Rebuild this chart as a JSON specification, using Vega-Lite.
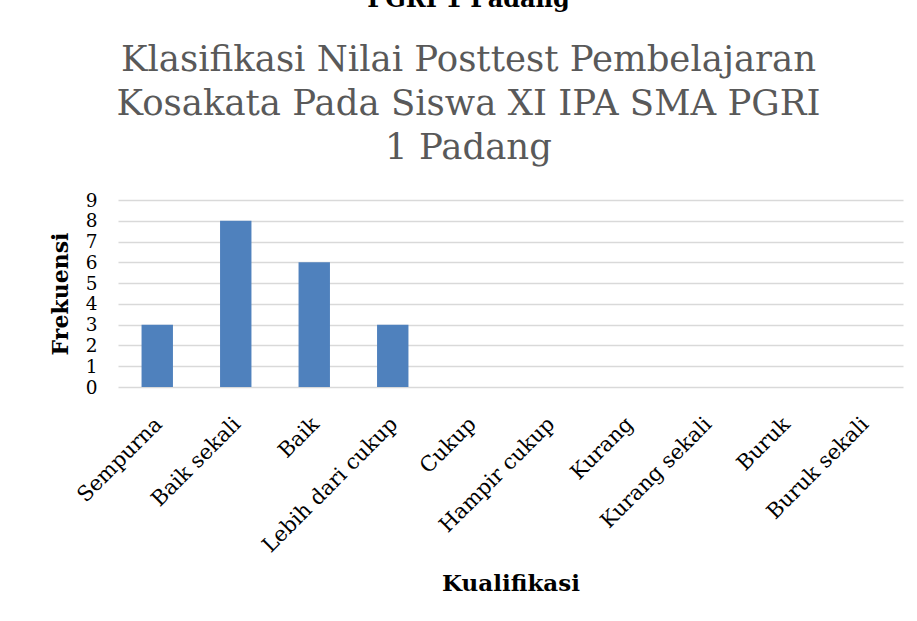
{
  "$schema": "https://vega.github.io/schema/vega-lite/v6.json",
  "width": 785,
  "height": 187,
  "autosize": "none",
  "padding": {"left": 118, "top": 200, "right": 14, "bottom": 234},
  "background": "white",
  "title": {
    "text": "PGRI 1 Padang",
    "subtitle": ["Klasifikasi Nilai Posttest Pembelajaran", "Kosakata Pada Siswa XI IPA SMA PGRI", "1 Padang"],
    "anchor": "middle",
    "frame": "group",
    "dx": -42,
    "offset": 25,
    "font": "DejaVu Serif",
    "fontSize": 24,
    "fontWeight": "bold",
    "color": "black",
    "subtitleFont": "DejaVu Serif",
    "subtitleFontSize": 35.5,
    "subtitleColor": "#595959",
    "subtitleLineHeight": 44,
    "subtitlePadding": 31
  },
  "data": {
    "values": [
      {"kualifikasi": "Sempurna", "frekuensi": 3},
      {"kualifikasi": "Baik sekali", "frekuensi": 8},
      {"kualifikasi": "Baik", "frekuensi": 6},
      {"kualifikasi": "Lebih dari cukup", "frekuensi": 3},
      {"kualifikasi": "Cukup", "frekuensi": 0},
      {"kualifikasi": "Hampir cukup", "frekuensi": 0},
      {"kualifikasi": "Kurang", "frekuensi": 0},
      {"kualifikasi": "Kurang sekali", "frekuensi": 0},
      {"kualifikasi": "Buruk", "frekuensi": 0},
      {"kualifikasi": "Buruk sekali", "frekuensi": 0}
    ]
  },
  "mark": {"type": "bar", "color": "#4f81bd"},
  "encoding": {
    "x": {
      "field": "kualifikasi",
      "type": "nominal",
      "sort": null,
      "scale": {"paddingInner": 0.6, "paddingOuter": 0.3},
      "axis": {
        "title": "Kualifikasi",
        "titleFont": "DejaVu Serif",
        "titleFontSize": 23,
        "titleFontWeight": "bold",
        "titleColor": "black",
        "titlePadding": 17,
        "labelAngle": -45,
        "labelFont": "DejaVu Serif",
        "labelFontSize": 21,
        "labelColor": "black",
        "labelPadding": 26,
        "labelOffset": -6,
        "labelLimit": 400,
        "labelOverlap": false,
        "ticks": false,
        "domain": false
      }
    },
    "y": {
      "field": "frekuensi",
      "type": "quantitative",
      "scale": {"domain": [0, 9], "nice": false},
      "axis": {
        "title": "Frekuensi",
        "values": [0, 1, 2, 3, 4, 5, 6, 7, 8, 9],
        "titleFont": "DejaVu Serif",
        "titleFontSize": 22,
        "titleFontWeight": "bold",
        "titleColor": "black",
        "titlePadding": 13,
        "labelFont": "DejaVu Serif",
        "labelFontSize": 18.5,
        "labelColor": "black",
        "labelPadding": 21,
        "labelOverlap": false,
        "ticks": false,
        "domain": false,
        "grid": true,
        "gridColor": "#d9d9d9",
        "gridWidth": 1.5
      }
    }
  },
  "config": {"view": {"stroke": null}}
}
